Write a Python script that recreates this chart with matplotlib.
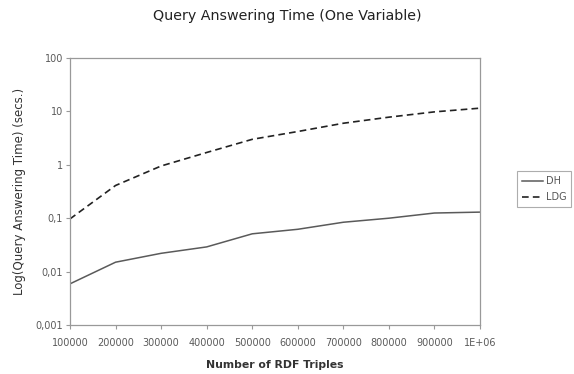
import matplotlib
matplotlib.use("Agg")
import matplotlib.pyplot as plt
from matplotlib.ticker import FixedLocator, FixedFormatter, NullLocator

triples = [100000, 200000, 300000, 400000, 500000, 600000, 700000, 800000, 900000, 1000000]
x_labels = ["100000", "200000", "300000", "400000", "500000", "600000", "700000", "800000", "900000", "1E+06"]
dh = [0.0059, 0.015, 0.022, 0.029, 0.051, 0.062, 0.084, 0.10, 0.125, 0.13]
ldg = [0.097, 0.41, 0.95, 1.7, 3.0, 4.2, 6.0, 7.8, 9.8, 11.5]
y_ticks = [0.001, 0.01, 0.1, 1, 10, 100]
y_labels = ["0,001", "0,01", "0,1", "1", "10", "100"]

plt.rcParams['font.family'] = ['DejaVu Sans']

W, H = 574, 374
fig = plt.figure(figsize=(W/100, H/100), dpi=100)
ax = fig.add_axes([70/W, 1 - 325/H, (480-70)/W, (325-58)/H])

ax.plot(triples, dh, color="#5a5a5a", lw=1.1, label="DH")
ax.plot(triples, ldg, color="#222222", lw=1.2, ls=(0, (4, 2.5)), label="LDG")

ax.set_yscale("log")
ax.set_ylim(0.001, 100)
ax.set_xlim(triples[0], triples[-1])
ax.yaxis.set_major_locator(FixedLocator(y_ticks))
ax.yaxis.set_major_formatter(FixedFormatter(y_labels))
ax.yaxis.set_minor_locator(NullLocator())
ax.set_xticks(triples)
ax.set_xticklabels(x_labels)

for s in ax.spines.values():
    s.set_color("#999999")
    s.set_linewidth(0.9)
ax.tick_params(axis="both", colors="#999999", labelcolor="#5a5a5a", labelsize=7,
               length=3, width=0.8, direction="out", pad=2)
ax.tick_params(axis="x", pad=6)

ax.set_xlabel("Number of RDF Triples", fontsize=7.8, fontweight="bold", color="#333333", labelpad=9)
ax.set_ylabel("Log(Query Answering Time) (secs.)", fontsize=8.5, color="#333333", labelpad=7)
fig.text(287/W, 1 - 16/H, "Query Answering Time (One Variable)", ha="center", va="center",
         fontsize=10.3, color="#222222")

leg = fig.legend(loc="center", bbox_to_anchor=(544/W, 1 - 189/H), fontsize=7,
                 frameon=True, fancybox=False, handlelength=2.2, handletextpad=0.3,
                 borderpad=0.5, labelspacing=0.6, borderaxespad=0)
leg.get_frame().set_edgecolor("#999999")
leg.get_frame().set_linewidth(0.8)
for t in leg.get_texts():
    t.set_color("#555555")

fig.savefig("out.png", dpi=100)
